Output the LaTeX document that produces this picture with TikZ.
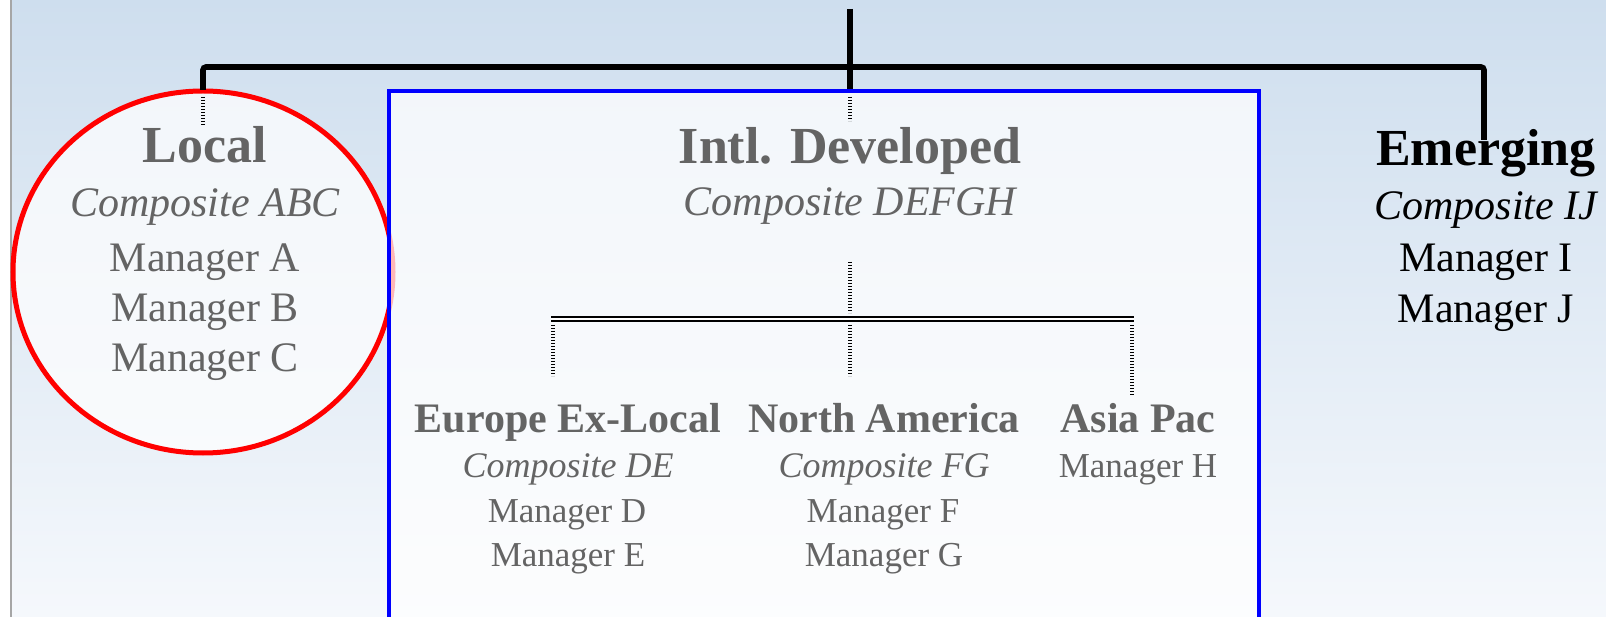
\documentclass[tikz,border=0pt]{standalone}
\usepackage{fontspec}
\setmainfont{Liberation Serif}
\definecolor{bgtop}{RGB}{206,222,238}
\definecolor{bgbot}{RGB}{245,248,252}
\definecolor{fade}{RGB}{100,100,100}
\definecolor{ringred}{RGB}{255,0,0}
\definecolor{boxblue}{RGB}{0,0,255}
\tikzset{
  txt/.style={inner sep=0pt, anchor=base, text=fade},
  hdbig/.style={txt, font=\fontsize{52}{60}\selectfont\bfseries},
  subbig/.style={txt, font=\fontsize{42}{50}\selectfont\itshape},
  mgbig/.style={txt, font=\fontsize{42}{50}\selectfont},
  hdsmall/.style={txt, font=\fontsize{42}{50}\selectfont\bfseries},
  subsmall/.style={txt, font=\fontsize{36}{42}\selectfont\itshape},
  mgsmall/.style={txt, font=\fontsize{35}{42}\selectfont},
  solidtxt/.style={text=black},
  mainline/.style={line width=5.6pt, draw=black, rounded corners=3pt},
  faintline/.style={line width=4pt, draw=black, dash pattern=on 1.2pt off 1.8pt},
  doubleline/.style={draw=black, line width=1.4pt, double=white, double distance=2.4pt},
  veil/.style={fill=white, fill opacity=0.72}
}
\begin{document}
\begin{tikzpicture}[x=1pt, y=-1pt]
\useasboundingbox (0,0) rectangle (1606,617);
\clip (0,0) rectangle (1606,617);

% slide background
\shade[top color=bgtop, bottom color=bgbot] (0,0) rectangle (1606,617);
\fill[white] (0,0) rectangle (10,617);
\draw[black!35, line width=2pt] (11,0) -- (11,617);

% highlight ring and box
\draw[ringred, line width=5pt, veil] (203,272) ellipse [x radius=190, y radius=181];
\draw[boxblue, line width=4.5pt, veil] (389,91) rectangle (1259,660);

% top level connectors
\coordinate (root) at (850,9);
\coordinate (rootend) at (850,89);
\coordinate (jl) at (203,67);
\coordinate (jr) at (1484,67);
\coordinate (ldrop) at (203,90);
\coordinate (rdrop) at (1484,140);
\draw[mainline] (root) -- (rootend);
\draw[mainline] (ldrop) -- (jl) -- (jr) -- (rdrop);

% faded stubs inside ring and box
\coordinate (lstubA) at (203,97);  \coordinate (lstubB) at (203,125);
\coordinate (mstubA) at (850,97);  \coordinate (mstubB) at (850,121);
\draw[faintline] (lstubA) -- (lstubB);
\draw[faintline] (mstubA) -- (mstubB);

% second level tree
\coordinate (hubtop) at (850,262);
\coordinate (hubbot) at (850,313);
\coordinate (hl) at (551,319);
\coordinate (hr) at (1134,319);
\coordinate (dlA) at (553,325); \coordinate (dlB) at (553,376);
\coordinate (dmA) at (850,325); \coordinate (dmB) at (850,376);
\coordinate (drA) at (1132,325); \coordinate (drB) at (1132,395);
\draw[faintline] (hubtop) -- (hubbot);
\draw[doubleline] (hl) -- (hr);
\draw[faintline] (dlA) -- (dlB);
\draw[faintline] (dmA) -- (dmB);
\draw[faintline] (drA) -- (drB);

% Local
\node[hdbig]  (local)   at (205,163) {Local};
\node[subbig] (localc)  at (205,217) {Composite ABC};
\node[mgbig]  (mgrA)    at (205,272) {Manager A};
\node[mgbig]  (mgrB)    at (205,322) {Manager B};
\node[mgbig]  (mgrC)    at (205,372) {Manager C};

% Intl. Developed
\node[hdbig]  (intl)    at (850,164) {Intl. Developed};
\node[subbig] (intlc)   at (850,216) {Composite DEFGH};

\node[hdsmall]  (europe)  at (568,432) {Europe Ex-Local};
\node[subsmall] (europec) at (568,477) {Composite DE};
\node[mgsmall]  (mgrD)    at (567,522) {Manager D};
\node[mgsmall]  (mgrE)    at (568,566) {Manager E};

\node[hdsmall]  (namer)   at (884,432) {North America};
\node[subsmall] (namerc)  at (884,477) {Composite FG};
\node[mgsmall]  (mgrF)    at (883,522) {Manager F};
\node[mgsmall]  (mgrG)    at (884,566) {Manager G};

\node[hdsmall]  (asia)    at (1138,432) {Asia Pac};
\node[mgsmall]  (mgrH)    at (1138,477) {Manager H};

% Emerging
\node[hdbig, solidtxt]  (emerg)  at (1486,166) {Emerging};
\node[subbig, solidtxt] (emergc) at (1486,220) {Composite IJ};
\node[mgbig, solidtxt]  (mgrI)   at (1486,272) {Manager I};
\node[mgbig, solidtxt]  (mgrJ)   at (1486,323) {Manager J};
\end{tikzpicture}
\end{document}
